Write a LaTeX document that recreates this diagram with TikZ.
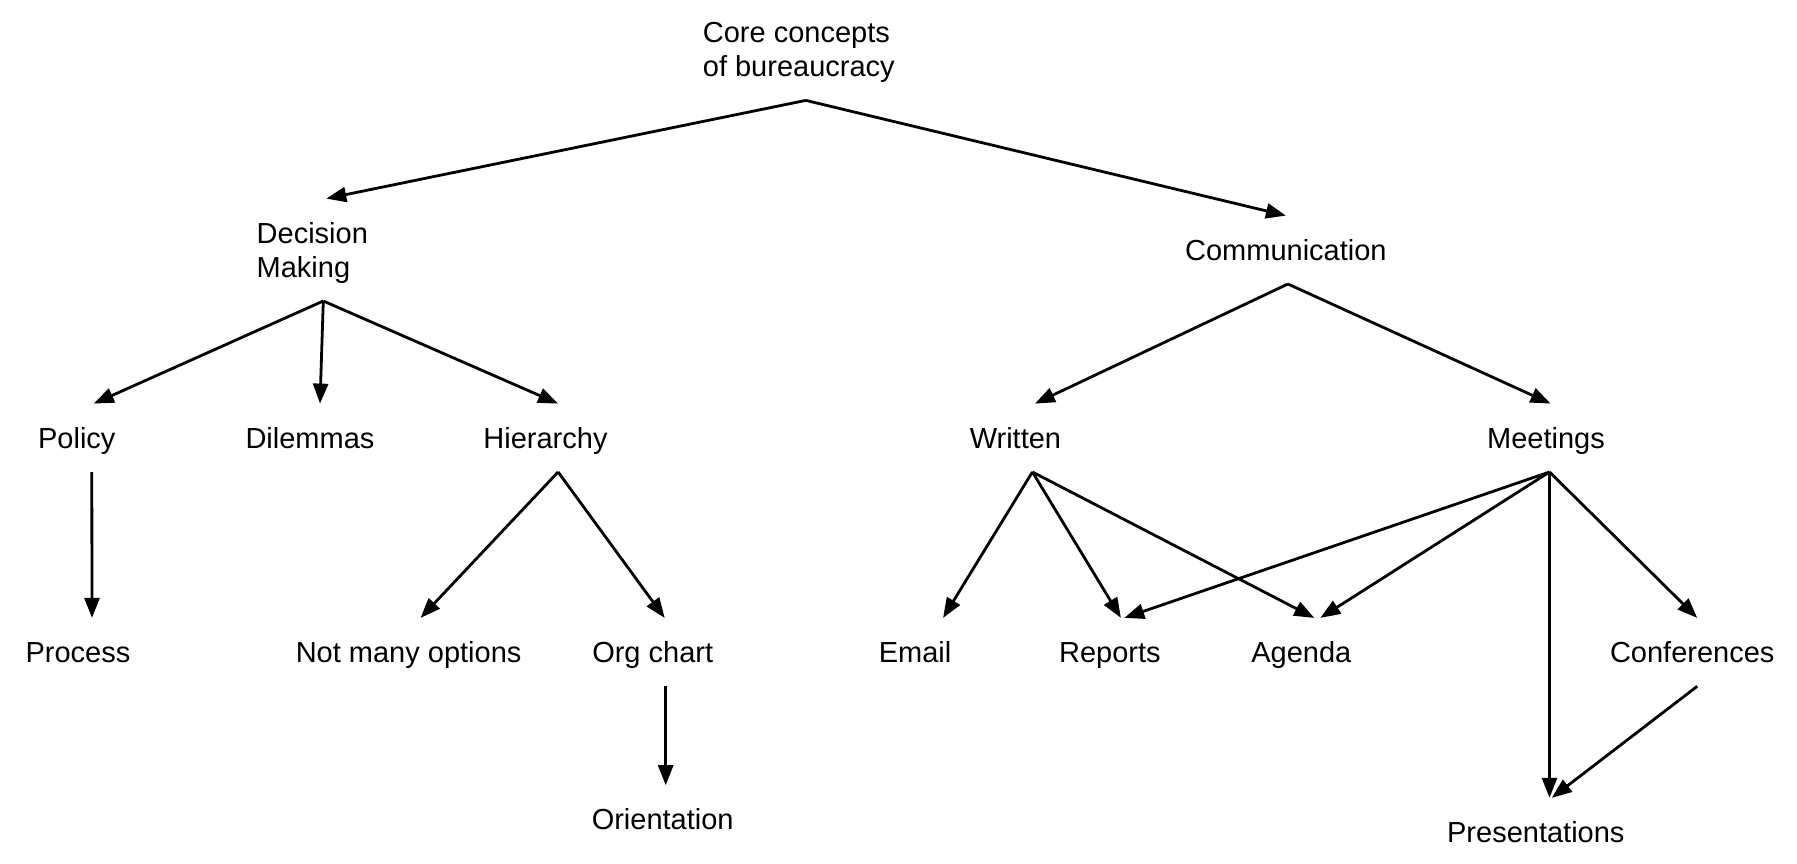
\documentclass[tikz,border=0pt]{standalone}
\usepackage{fontspec}
\setmainfont{Liberation Sans}
\usepackage{tikz}
\usetikzlibrary{positioning,arrows.meta}
\tikzset{
    concept/.style={font=\fontsize{29}{34}\selectfont, text height=21pt, text depth=0pt, inner xsep=0pt, inner ysep=23.5pt},
    twoline/.style={concept, align=left, text height=55pt},
    arrow/.style={-{Triangle[length=20pt,width=15pt]}, line width=2.8pt, color=black}
}
\begin{document}
\begin{tikzpicture}[x=1pt, y=-1pt]
\useasboundingbox (0,0) rectangle (1797,864);

% Root
\node[twoline] at (798.8,49.2) (root) {Core concepts\\of bureaucracy};

% Main branches
\node[twoline] at (312.3,249.8) (dm) {Decision\\Making};
\node[concept] at (1285.9,249.8) (comm) {Communication};

\draw[arrow] ([xshift=7pt]root.south) -- ([xshift=14pt]dm.north);
\draw[arrow] ([xshift=7pt]root.south) -- (comm.north);

% Decision making
\node[concept] at (76.8,437.8) (policy) {Policy};
\node[concept] at (310,437.8) (dilemmas) {Dilemmas};
\node[concept] at (545.5,437.8) (hierarchy) {Hierarchy};
\node[concept] at (78,652.1) (process) {Process};
\node[concept] at (408.6,652.1) (notmany) {Not many options};
\node[concept] at (652.7,652.1) (orgchart) {Org chart};
\node[concept] at (662.7,819.4) (orientation) {Orientation};

\draw[arrow] ([xshift=11pt]dm.south) -- ([xshift=17pt]policy.north);
\draw[arrow] ([xshift=11pt]dm.south) -- ([xshift=10pt]dilemmas.north);
\draw[arrow] ([xshift=11pt]dm.south) -- ([xshift=12.6pt]hierarchy.north);
\draw[arrow] ([xshift=15pt]policy.south) -- ([xshift=14pt]process.north);
\draw[arrow] ([xshift=12.6pt]hierarchy.south) -- ([xshift=12pt]notmany.north);
\draw[arrow] ([xshift=12.6pt]hierarchy.south) -- ([xshift=12pt]orgchart.north);
\draw[arrow] ([xshift=13pt]orgchart.south) -- ([xshift=3pt]orientation.north);

% Communication
\node[concept] at (1015.4,437.8) (written) {Written};
\node[concept] at (1546,437.8) (meetings) {Meetings};
\node[concept] at (915.1,652.1) (email) {Email};
\node[concept] at (1109.9,652.1) (reports) {Reports};
\node[concept] at (1301.3,652.1) (agenda) {Agenda};
\node[concept] at (1692.2,652.1) (conf) {Conferences};
\node[concept] at (1535.8,832) (pres) {Presentations};

\draw[arrow] ([xshift=2pt]comm.south) -- ([xshift=19.5pt]written.north);
\draw[arrow] ([xshift=2pt]comm.south) -- ([xshift=4.6pt]meetings.north);
\draw[arrow] ([xshift=17pt]written.south) -- ([xshift=28pt]email.north);
\draw[arrow] ([xshift=17pt]written.south) -- ([xshift=11pt]reports.north);
\draw[arrow] ([xshift=17pt]written.south) -- ([xshift=13pt]agenda.north);
\draw[arrow] ([xshift=3.5pt]meetings.south) -- ([xshift=14.4pt]reports.north);
\draw[arrow] ([xshift=3.5pt]meetings.south) -- ([xshift=19pt]agenda.north);
\draw[arrow] ([xshift=3.5pt]meetings.south) -- ([xshift=13.7pt]pres.north);
\draw[arrow] ([xshift=3.5pt]meetings.south) -- ([xshift=5pt]conf.north);
\draw[arrow] ([xshift=5pt]conf.south) -- ([xshift=16pt]pres.north);

\end{tikzpicture}
\end{document}
